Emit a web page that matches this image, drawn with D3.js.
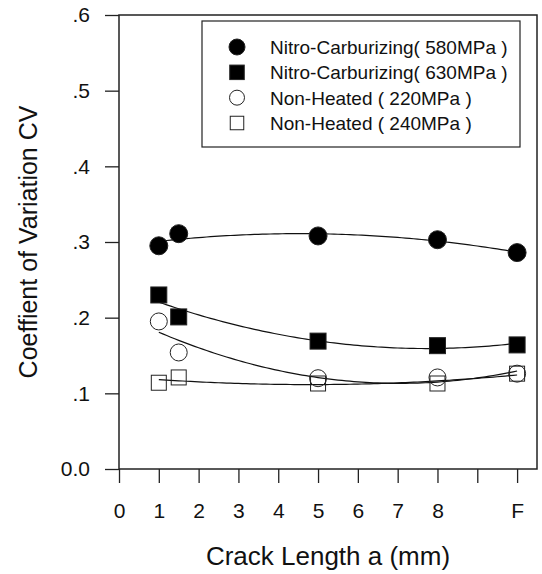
<!DOCTYPE html>
<html>
<head>
<meta charset="utf-8">
<script src="https://cdn.jsdelivr.net/npm/d3@7"></script>
<style>
  body { margin: 0; background: #fff; }
  svg text { font-family: "Liberation Sans", Arial, sans-serif; fill: #111; }
</style>
</head>
<body>
<div id="chart"></div>
<script>
// crack length positions (F plotted at 10)
const xPos = [1, 1.5, 5, 8, 10];
const xTicks = [0, 1, 2, 3, 4, 5, 6, 7, 8, 9, 10];
const xTickLabels = ["0", "1", "2", "3", "4", "5", "6", "7", "8", "", "F"];
const yTicks = [0, 0.1, 0.2, 0.3, 0.4, 0.5, 0.6];
const yTickLabels = ["0.0", ".1", ".2", ".3", ".4", ".5", ".6"];

const seriesNames = [
  "Nitro-Carburizing( 580MPa )",
  "Nitro-Carburizing( 630MPa )",
  "Non-Heated ( 220MPa )",
  "Non-Heated ( 240MPa )"
];
const nc580 = [0.295, 0.311, 0.308, 0.303, 0.286];
const nc630 = [0.230, 0.201, 0.169, 0.163, 0.164];
const nh220 = [0.195, 0.154, 0.120, 0.121, 0.126];
const nh240 = [0.114, 0.121, 0.113, 0.113, 0.126];

const W = 542, H = 574;
const mLeft = 119, mRight = 537, mTop = 15, mBottom = 469;

const svg = d3.select("#chart").append("svg")
  .attr("width", W).attr("height", H);

const x = d3.scaleLinear().domain([0, 10.5]).range([mLeft, mRight]);
const y = d3.scaleLinear().domain([0, 0.6]).range([mBottom, mTop]);

// frame
svg.append("rect")
  .attr("x", mLeft).attr("y", mTop)
  .attr("width", mRight - mLeft).attr("height", mBottom - mTop)
  .attr("fill", "none").attr("stroke", "#222").attr("stroke-width", 1.5);

// x axis
const xAxis = svg.append("g")
  .attr("transform", `translate(0,${mBottom})`)
  .call(d3.axisBottom(x).tickValues(xTicks).tickSize(14).tickPadding(20)
    .tickFormat((d, i) => xTickLabels[i]));
xAxis.select(".domain").remove();
xAxis.selectAll("line").attr("stroke", "#222").attr("stroke-width", 1.3);
xAxis.selectAll("text").attr("font-size", 21).attr("fill", "#111");

// y axis
const yAxis = svg.append("g")
  .attr("transform", `translate(${mLeft},0)`)
  .call(d3.axisLeft(y).tickValues(yTicks).tickSize(14).tickPadding(15)
    .tickFormat((d, i) => yTickLabels[i]));
yAxis.select(".domain").remove();
yAxis.selectAll("line").attr("stroke", "#222").attr("stroke-width", 1.3);
yAxis.selectAll("text").attr("font-size", 21).attr("fill", "#111");

// axis titles
svg.append("text")
  .attr("x", (mLeft + mRight) / 2).attr("y", 565)
  .attr("text-anchor", "middle").attr("font-size", 26)
  .text("Crack Length a (mm)");
svg.append("text")
  .attr("transform", `translate(37,${(mTop + mBottom) / 2}) rotate(-90)`)
  .attr("text-anchor", "middle").attr("font-size", 25)
  .text("Coeffient of Variation CV");

// quadratic least-squares fit for the trend curves
function quadFit(xs, ys) {
  const s = [0, 0, 0, 0, 0], t = [0, 0, 0];
  xs.forEach((xv, i) => {
    for (let k = 0; k < 5; k++) s[k] += Math.pow(xv, k);
    for (let k = 0; k < 3; k++) t[k] += ys[i] * Math.pow(xv, k);
  });
  const A = [[s[0], s[1], s[2], t[0]], [s[1], s[2], s[3], t[1]], [s[2], s[3], s[4], t[2]]];
  for (let i = 0; i < 3; i++) {
    for (let j = i + 1; j < 3; j++) {
      const f = A[j][i] / A[i][i];
      for (let k = i; k < 4; k++) A[j][k] -= f * A[i][k];
    }
  }
  const c = [0, 0, 0];
  for (let i = 2; i >= 0; i--) {
    let v = A[i][3];
    for (let k = i + 1; k < 3; k++) v -= A[i][k] * c[k];
    c[i] = v / A[i][i];
  }
  return xv => c[0] + c[1] * xv + c[2] * xv * xv;
}

const allSeries = [nc580, nc630, nh220, nh240];
const styles = [
  { shape: "circle", fill: "#000", size: 9 },
  { shape: "square", fill: "#000", size: 16 },
  { shape: "circle", fill: "none", size: 8.5 },
  { shape: "square", fill: "none", size: 15 }
];

const line = d3.line().x(d => x(d[0])).y(d => y(d[1]));
const curveG = svg.append("g");
allSeries.forEach(vals => {
  const f = quadFit(xPos, vals);
  const pts = d3.range(1, 10.001, 0.1).map(xv => [xv, f(xv)]);
  curveG.append("path").datum(pts)
    .attr("d", line).attr("fill", "none")
    .attr("stroke", "#111").attr("stroke-width", 1.2);
});

function drawMarker(g, st, cx, cy) {
  if (st.shape === "circle") {
    g.append("circle").attr("cx", cx).attr("cy", cy).attr("r", st.size)
      .attr("fill", st.fill).attr("stroke", "#222").attr("stroke-width", 1);
  } else {
    g.append("rect").attr("x", cx - st.size / 2).attr("y", cy - st.size / 2)
      .attr("width", st.size).attr("height", st.size)
      .attr("fill", st.fill).attr("stroke", "#222").attr("stroke-width", 1);
  }
}

const markG = svg.append("g");
[3, 2, 1, 0].forEach(si => {
  allSeries[si].forEach((v, i) => {
    drawMarker(markG, styles[si], x(xPos[i]), y(v));
  });
});

// legend
const lg = svg.append("g");
lg.append("rect").attr("x", 202).attr("y", 21).attr("width", 318).attr("height", 126)
  .attr("fill", "#fff").attr("stroke", "#222").attr("stroke-width", 1.2);
const rowY = d3.scaleLinear().domain([0, 3]).range([47, 123]);
seriesNames.forEach((name, i) => {
  const st = Object.assign({}, styles[i]);
  st.size = st.shape === "circle" ? st.size - 1 : st.size - 1.5;
  drawMarker(lg, st, 237, rowY(i));
  lg.append("text").attr("x", 270).attr("y", rowY(i)).attr("dy", "0.36em")
    .attr("font-size", 19).text(name);
});
</script>
</body>
</html>
